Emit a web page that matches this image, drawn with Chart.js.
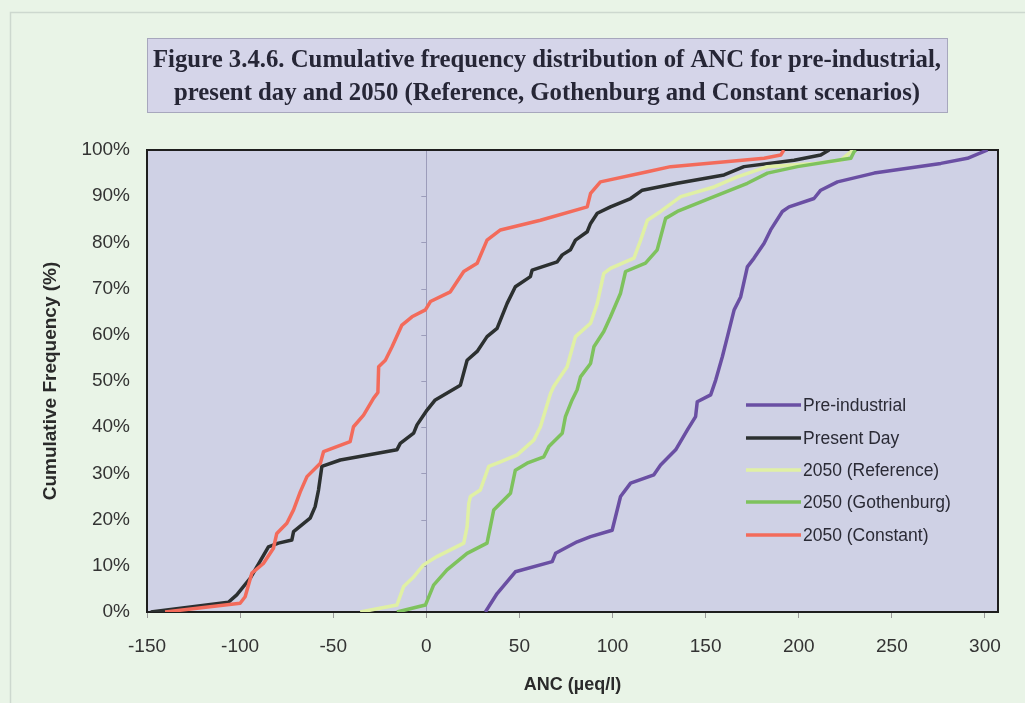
<!DOCTYPE html>
<html>
<head>
<meta charset="utf-8">
<script src="https://cdn.jsdelivr.net/npm/chart.js@4.4.0/dist/chart.umd.min.js"></script>
<style>
  html, body { margin: 0; padding: 0; background: #e9f4e7; }
  #wrap { width: 1025px; height: 703px; position: relative; }
  canvas { display: block; }
</style>
</head>
<body>
<div id="wrap"><canvas id="c" width="1025" height="703"></canvas></div>
<script>
// ANC (µeq/l) against cumulative frequency (%) for each scenario
const ancPre = [31.7, 38, 47.8, 67.6, 69.4, 81, 88.2, 99.8, 104.3, 109.7, 122.2, 125.8, 133.9, 140.2, 144.6, 145.5, 152.7, 155.4, 159, 161.7, 165.3, 168.8, 172.4, 176, 181.4, 184.9, 191.2, 194.8, 208.2, 211.8, 220.8, 240.5, 276.3, 290.6, 301.4];
const cumPre = [0, 4, 8.7, 10.9, 12.7, 15.2, 16.3, 17.7, 25, 27.9, 29.7, 31.8, 35.1, 39.4, 42.3, 45.5, 47, 50.2, 55.3, 59.6, 65.4, 68.2, 74.7, 76.6, 79.8, 82.7, 86.7, 87.7, 89.5, 91.3, 93.1, 95, 97.1, 98.2, 100];

const ancPresent = [-148, -106.3, -101.8, -94.6, -84.8, -79.4, -72.2, -71.3, -62.4, -59.7, -57.9, -56.1, -46.2, -15.8, -14, -6.8, -5, 0.4, 4.8, 18.3, 21.9, 27.3, 32.6, 38, 43.4, 47.8, 55.9, 56.8, 70.3, 73, 77.4, 80.1, 86.4, 88.2, 91.8, 98.9, 109.7, 116, 134.8, 159.9, 170.6, 197.5, 211.8, 216.3];
const cumPresent = [0, 2.1, 3.7, 7.3, 14.1, 14.9, 15.6, 17.4, 20.3, 22.8, 26.4, 31.5, 32.9, 35.1, 36.5, 38.7, 40.5, 43.7, 45.9, 49.1, 54.5, 56.4, 59.6, 61.4, 66.8, 70.4, 72.6, 74, 75.8, 77.3, 78.4, 80.5, 82.3, 84.1, 86.3, 87.7, 89.5, 91.3, 92.8, 94.6, 96.4, 97.8, 98.9, 100];

const ancReference = [-35.5, -15.8, -12.2, -6.8, -1.5, 5.7, 20.1, 21.9, 22.8, 23.7, 29, 33.5, 39.8, 48.8, 57.7, 61.3, 64, 66.7, 68.4, 75.6, 80.1, 88.2, 91.8, 95.3, 98.9, 111.5, 115.1, 118.7, 125.8, 136.6, 154.5, 167, 183.2, 208.2, 222.6, 228, 229.6];
const cumReference = [0, 1.5, 5.5, 7.6, 10.2, 12, 14.9, 18.5, 23.5, 25, 26.4, 31.5, 32.5, 34, 37.2, 40.1, 43.7, 47.3, 48.8, 53.1, 59.6, 62.5, 66.8, 73.3, 74.4, 76.6, 80.5, 84.8, 86.7, 89.9, 92, 94.2, 96.4, 97.1, 97.8, 99.6, 100];

const ancGothenburg = [-15.8, -0.5, 3.9, 11.1, 21.9, 32.6, 34.4, 36.2, 45.2, 47.8, 54.1, 63.1, 65.8, 73, 74.7, 78.3, 81, 82.8, 88.2, 90, 95.3, 98.9, 104.3, 107, 117.7, 124, 128.5, 134.8, 154.5, 172.4, 183.2, 199.3, 222.6, 228, 229.7, 230.6];
const cumGothenburg = [0, 1.5, 5.8, 9.1, 12.7, 14.9, 18.5, 22.1, 25.7, 30.7, 32.2, 33.6, 35.8, 38.7, 42.3, 45.9, 48.1, 50.9, 53.8, 57.4, 60.7, 63.9, 69, 73.7, 75.5, 78.4, 85.2, 86.7, 89.9, 92.8, 95, 96.4, 97.9, 98.2, 99.6, 100];

const ancConstant = [-140.3, -100, -97.3, -93.7, -87.5, -82.1, -80.3, -74.9, -71.3, -67.7, -64.1, -56.9, -55.2, -40.9, -39.1, -33.7, -28.3, -26, -25.6, -22, -18.4, -13.1, -7.7, -0.5, 2.2, 12.9, 20.1, 27.3, 32.6, 39.8, 61.3, 86.4, 88.2, 93.5, 118.7, 131.2, 181.4, 190.3, 192];
const cumConstant = [0, 1.9, 3.3, 8.4, 10.5, 13.8, 17, 19.2, 22.1, 26, 29.3, 32.2, 34.7, 36.9, 40.1, 42.6, 46.3, 47.5, 53.1, 54.5, 57.4, 62.1, 63.9, 65.4, 67.2, 69.3, 73.7, 75.5, 80.5, 82.7, 84.8, 87.7, 90.6, 93.1, 95.3, 96.4, 98.2, 98.9, 100];

const seriesNames = ['Pre-industrial', 'Present Day', '2050 (Reference)', '2050 (Gothenburg)', '2050 (Constant)'];
const xTickValues = [-150, -100, -50, 0, 50, 100, 150, 200, 250, 300];
const yTickValues = [0, 10, 20, 30, 40, 50, 60, 70, 80, 90, 100];

const titleLines = [
  'Figure 3.4.6. Cumulative frequency distribution of ANC for pre-industrial,',
  'present day and 2050 (Reference, Gothenburg and Constant scenarios)'
];
const xTitle = 'ANC (\u00b5eq/l)';
const yTitle = 'Cumulative Frequency (%)';

const seriesColors = ['#6a4fa3', '#2c3030', '#e0f0a4', '#7ec25d', '#f36b5b'];

function toPoints(xs, ys) { return xs.map((x, i) => ({ x: x, y: ys[i] })); }

const allSeries = [
  toPoints(ancPre, cumPre),
  toPoints(ancPresent, cumPresent),
  toPoints(ancReference, cumReference),
  toPoints(ancGothenburg, cumGothenburg),
  toPoints(ancConstant, cumConstant)
];

const datasets = allSeries.map((pts, i) => ({
  label: seriesNames[i],
  data: pts,
  showLine: true,
  borderColor: seriesColors[i],
  backgroundColor: seriesColors[i],
  borderWidth: 3.5,
  borderJoinStyle: 'round',
  pointRadius: 0,
  pointHoverRadius: 0,
  tension: 0,
  fill: false,
  // later series drawn above earlier ones
  order: seriesNames.length - 1 - i
}));

const pageBackground = {
  id: 'pageBackground',
  beforeDraw(chart) {
    const ctx = chart.ctx;
    const { left, top, right, bottom } = chart.chartArea;
    ctx.save();
    ctx.fillStyle = '#e9f4e7';
    ctx.fillRect(0, 0, chart.width, chart.height);
    // faint sheet edge
    ctx.strokeStyle = '#cdd8cf';
    ctx.lineWidth = 1.5;
    ctx.beginPath();
    ctx.moveTo(10.5, chart.height); ctx.lineTo(10.5, 12.5); ctx.lineTo(chart.width, 12.5);
    ctx.stroke();

    // caption box
    ctx.fillStyle = '#d5d5e9';
    ctx.fillRect(147, 38, 801, 75);
    ctx.strokeStyle = '#a7a7bd';
    ctx.lineWidth = 1;
    ctx.strokeRect(147.5, 38.5, 800, 74);
    ctx.fillStyle = '#262636';
    ctx.textAlign = 'center';
    ctx.textBaseline = 'middle';
    ctx.font = 'bold 26px "Liberation Serif", "Times New Roman", serif';
    const ys = [60, 93];
    titleLines.forEach((t, i) => {
      const w = ctx.measureText(t).width;
      const target = i === 0 ? 788 : 746;
      const sx = target / w;
      ctx.save();
      ctx.translate(547, ys[i]);
      ctx.scale(sx, 1);
      ctx.fillText(t, 0, 0);
      ctx.restore();
    });

    // plot area fill
    ctx.fillStyle = '#cfd1e5';
    ctx.fillRect(left, top, right - left, bottom - top);
    ctx.restore();
  },
  beforeDatasetsDraw(chart) {
    const ctx = chart.ctx;
    const xs = chart.scales.x, ysc = chart.scales.y;
    const x0 = xs.getPixelForValue(0);
    ctx.save();
    ctx.strokeStyle = '#9c9cba';
    ctx.lineWidth = 1;
    ctx.beginPath();
    yTickValues.forEach(v => {
      const py = Math.round(ysc.getPixelForValue(v)) + 0.5;
      ctx.moveTo(x0 - 5, py); ctx.lineTo(x0, py);
    });
    ctx.stroke();
    // plot border
    const { left, top, right, bottom } = chart.chartArea;
    ctx.strokeStyle = '#1e1e1e';
    ctx.lineWidth = 2;
    ctx.strokeRect(left, top, right - left, bottom - top);
    ctx.restore();
  },
  afterDatasetsDraw(chart) {
    const ctx = chart.ctx;
    ctx.save();
    ctx.font = '17.5px "Liberation Sans", Arial, sans-serif';
    ctx.textAlign = 'left';
    ctx.textBaseline = 'middle';
    const rows = [405, 438, 470, 502, 535];
    seriesNames.forEach((name, i) => {
      ctx.strokeStyle = seriesColors[i];
      ctx.lineWidth = 3.5;
      ctx.beginPath();
      ctx.moveTo(746, rows[i]); ctx.lineTo(801, rows[i]);
      ctx.stroke();
      ctx.fillStyle = '#2a2a35';
      ctx.fillText(name, 803, rows[i] + 1);
    });
    ctx.restore();
  }
};

new Chart(document.getElementById('c'), {
  type: 'scatter',
  data: { datasets: datasets },
  options: {
    responsive: false,
    animation: false,
    devicePixelRatio: 1,
    layout: { padding: { top: 150, right: 27, left: 0, bottom: 0 } },
    plugins: {
      legend: { display: false },
      tooltip: { enabled: false },
      title: { display: false }
    },
    scales: {
      x: {
        type: 'linear',
        min: -150,
        max: 307,
        afterBuildTicks(scale) {
          scale.ticks = xTickValues.map(v => ({ value: v }));
        },
        afterFit(scale) { scale.height = 91; },
        border: { display: false },
        grid: {
          drawOnChartArea: true,
          drawTicks: true,
          tickLength: 6,
          color: ctx => (ctx.tick && ctx.tick.value === 0 ? '#9c9cba' : 'rgba(0,0,0,0)'),
          tickColor: '#9a9a9a',
          lineWidth: 1
        },
        ticks: {
          padding: 17,
          color: '#333333',
          font: { family: '"Liberation Sans", Arial, sans-serif', size: 19 },
          maxRotation: 0,
          autoSkip: false,
          callback: v => String(v)
        },
        title: {
          display: true,
          text: xTitle,
          color: '#2a2a2a',
          font: { family: '"Liberation Sans", Arial, sans-serif', size: 18, weight: 'bold' },
          padding: { top: 0, bottom: 7 }
        }
      },
      y: {
        type: 'linear',
        min: 0,
        max: 100,
        afterBuildTicks(scale) {
          scale.ticks = yTickValues.map(v => ({ value: v }));
        },
        afterFit(scale) { scale.width = 147; },
        border: { display: false },
        grid: { display: false, drawTicks: false },
        ticks: {
          padding: 17,
          color: '#333333',
          font: { family: '"Liberation Sans", Arial, sans-serif', size: 19 },
          callback: v => v + '%'
        },
        title: {
          display: true,
          text: yTitle,
          color: '#2a2a2a',
          font: { family: '"Liberation Sans", Arial, sans-serif', size: 19, weight: 'bold' },
          padding: { top: 39, bottom: 0 }
        }
      }
    }
  },
  plugins: [pageBackground]
});
</script>
</body>
</html>
